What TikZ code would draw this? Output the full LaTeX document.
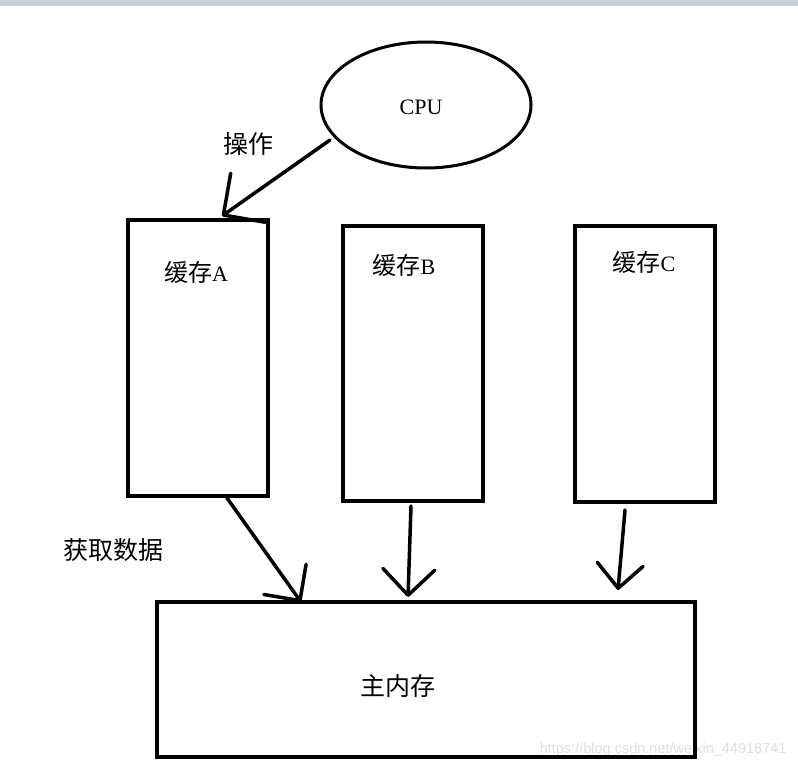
\documentclass[tikz,border=0pt]{standalone}
\usepackage{fontspec}
\setmainfont{Liberation Serif}
\setsansfont{Liberation Sans}
\newfontfamily\cjk{Noto Sans CJK SC}
\usetikzlibrary{arrows.meta,shapes.geometric}

\definecolor{topbar}{RGB}{200,206,222}
\definecolor{mark}{RGB}{222,222,222}

\tikzset{
  box/.style={draw, line width=4pt, inner sep=0pt},
  cpubox/.style={ellipse, draw, line width=3pt, minimum width=210pt, minimum height=126pt},
  lbl/.style={font=\fontsize{22}{26}\selectfont, inner sep=0pt},
  cjklbl/.style={font=\cjk\fontsize{25}{28}\selectfont, inner sep=0pt},
  arr/.style={line width=3.5pt, line cap=round,
    -{Straight Barb[length=26pt,width=52pt,round]}},
}

\begin{document}
\begin{tikzpicture}[x=1pt,y=-1pt]
            \useasboundingbox (0,0) rectangle (798,768);
            \fill[topbar] (0,0) rectangle (798,6);

            %nodes
            \node[cpubox] (cpu) at (426,105) {};
            \node[lbl] (cpulbl) at (421,107) {CPU};
            \node[cjklbl] (oplbl) at (248,144) {操作};

            \node[box, minimum width=140pt, minimum height=276pt] (cacheA) at (198,358) {};
            \node[box, minimum width=140pt, minimum height=275pt] (cacheB) at (413,363.5) {};
            \node[box, minimum width=140pt, minimum height=276pt] (cacheC) at (645,364) {};
            \node[lbl] (lblA) at (196,272) {{\cjk\fontsize{24}{26}\selectfont 缓存}A};
            \node[lbl] (lblB) at (404,265) {{\cjk\fontsize{24}{26}\selectfont 缓存}B};
            \node[lbl] (lblC) at (644,262) {{\cjk\fontsize{24}{26}\selectfont 缓存}C};

            \node[font=\sffamily\fontsize{14.5}{16}\selectfont, text=mark, anchor=east] (mark) at (790,750) {https://blog.csdn.net/weixin\_44916741};
            \node[box, minimum width=538pt, minimum height=155pt] (mem) at (426,679.5) {};
            \node[cjklbl] (memlbl) at (398,686) {主内存};
            \node[cjklbl] (getlbl) at (113,550) {获取数据};

            %edge ends
            \coordinate (cpuout) at (330,140);
            \coordinate (tipA) at (222,216);
            \coordinate (outA) at (227,498);
            \coordinate (inA) at (301,602);
            \coordinate (outB) at (411,506);
            \coordinate (inB) at (408,597);
            \coordinate (outC) at (625,510);
            \coordinate (inC) at (618,590);

            %edges
            \draw[arr, -{Straight Barb[length=30pt,width=60pt,round]}] (cpuout) -- (tipA);
            \draw[arr] (outA) -- (inA);
            \draw[arr] (outB) -- (inB);
            \draw[arr, -{Straight Barb[length=24pt,width=46pt,round]}] (outC) -- (inC);
        \end{tikzpicture}
\end{document}
